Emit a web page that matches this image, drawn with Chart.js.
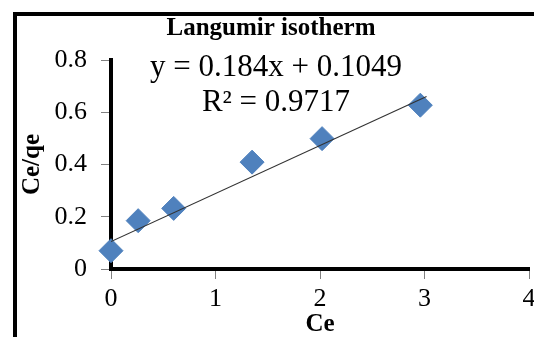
<!DOCTYPE html>
<html>
<head>
<meta charset="utf-8">
<script src="https://cdn.jsdelivr.net/npm/chart.js@4"></script>
<style>
  html, body { margin: 0; padding: 0; background: #fff; overflow: hidden; }
  #wrap { position: relative; width: 560px; height: 337px; }
  #frame {
    position: absolute; left: 13px; top: 12px; width: 600px; height: 400px;
    border-left: 4px solid #000; border-top: 4px solid #000;
  }
  #chartBox { position: absolute; left: 0; top: 0; width: 560px; height: 337px; }
</style>
</head>
<body>
<div id="wrap">
  <div id="frame"></div>
  <div id="chartBox"><canvas id="chart"></canvas></div>
</div>
<script>
// Dados
const ceValues = [0, 0.26, 0.60, 1.35, 2.02, 2.96];
const ceQeValues = [0.07, 0.185, 0.232, 0.409, 0.499, 0.627];

// Linha de tendência (extremos)
const trendX = [0, 3.02];
const trendY = [0.105, 0.66];

const chartTitle = "Langumir isotherm";
const equationLines = ["y = 0.184x + 0.1049", "R² = 0.9717"];
const xTitle = "Ce";
const yTitle = "Ce/qe";

const serif = "'Liberation Serif', 'Times New Roman', serif";

// Título e equação da linha de tendência
const textPlugin = {
  id: "textPlugin",
  afterDraw(chart) {
    const ctx = chart.ctx;
    ctx.save();
    ctx.fillStyle = "#000";
    ctx.textAlign = "center";
    ctx.textBaseline = "alphabetic";
    ctx.font = "bold 25px " + serif;
    ctx.fillText(chartTitle, 271, 35);
    ctx.font = "31px " + serif;
    ctx.fillText(equationLines[0], 276, 76);
    ctx.fillText(equationLines[1], 276, 111);
    ctx.restore();
  }
};

const ctx = document.getElementById("chart");
new Chart(ctx, {
  type: "scatter",
  data: {
    datasets: [
      {
        type: "line",
        data: trendX.map((x, i) => ({ x, y: trendY[i] })),
        borderColor: "#333",
        borderWidth: 1.2,
        pointRadius: 0,
        fill: false,
        order: 0
      },
      {
        data: ceValues.map((x, i) => ({ x, y: ceQeValues[i] })),
        pointStyle: "rectRot",
        pointRadius: 12,
        pointBackgroundColor: "#4F81BD",
        pointBorderColor: "#4F81BD",
        pointBorderWidth: 1,
        clip: false,
        order: 1
      }
    ]
  },
  options: {
    responsive: true,
    maintainAspectRatio: false,
    animation: false,
    layout: { padding: { left: 0, top: 60, right: 31, bottom: 0 } },
    plugins: {
      legend: { display: false },
      tooltip: { enabled: false }
    },
    scales: {
      x: {
        type: "linear",
        min: 0,
        max: 4,
        ticks: { stepSize: 1, color: "#000", padding: 5, font: { family: serif, size: 26 } },
        grid: { drawOnChartArea: false, tickLength: 10, tickColor: "#808080", tickWidth: 1 },
        border: { display: true, color: "#000", width: 4 },
        title: {
          display: true, text: xTitle, color: "#000",
          font: { family: serif, size: 25, weight: "bold", lineHeight: 1 },
          padding: { top: 0, bottom: 0 }
        },
        afterFit(scale) { scale.height = 68; }
      },
      y: {
        min: 0,
        max: 0.8,
        ticks: { stepSize: 0.2, color: "#000", padding: 14, font: { family: serif, size: 26 } },
        grid: { drawOnChartArea: false, tickLength: 10, tickColor: "#808080", tickWidth: 1 },
        border: { display: true, color: "#000", width: 4 },
        title: {
          display: true, text: yTitle, color: "#000",
          font: { family: serif, size: 25, weight: "bold", lineHeight: 1 },
          padding: { top: 20, bottom: 0 }
        },
        afterFit(scale) { scale.width = 111; }
      }
    }
  },
  plugins: [textPlugin]
});
</script>
</body>
</html>
